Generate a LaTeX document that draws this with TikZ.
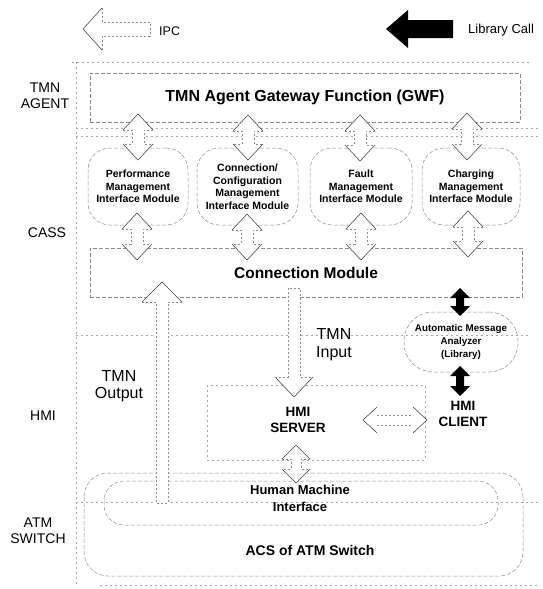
\documentclass[tikz,border=0pt]{standalone}
\usepackage{fontspec}
\setmainfont{Liberation Sans}
\usetikzlibrary{calc}

% vertical open double arrow: x, top tip, bottom tip, head length, head half width, shaft half width
\newcommand\vdblarrow[6]{%
  \fill[white] (#1,#2) -- ({#1+#5},{#2+#4}) -- ({#1+#6},{#2+#4}) -- ({#1+#6},{#3-#4}) -- ({#1+#5},{#3-#4}) -- (#1,#3)
    -- ({#1-#5},{#3-#4}) -- ({#1-#6},{#3-#4}) -- ({#1-#6},{#2+#4}) -- ({#1-#5},{#2+#4}) -- cycle;
  \draw[headline] ({#1-#5},{#2+#4}) -- (#1,#2) -- ({#1+#5},{#2+#4});
  \draw[headline] ({#1-#5},{#3-#4}) -- (#1,#3) -- ({#1+#5},{#3-#4});
  \draw[shaftline] ({#1-#5},{#2+#4}) -- ({#1-#6},{#2+#4}) -- ({#1-#6},{#3-#4}) -- ({#1-#5},{#3-#4});
  \draw[shaftline] ({#1+#5},{#2+#4}) -- ({#1+#6},{#2+#4}) -- ({#1+#6},{#3-#4}) -- ({#1+#5},{#3-#4});
}
% horizontal open double arrow: y, left tip, right tip, head length, head half height, shaft half height
\newcommand\hdblarrow[6]{%
  \fill[white] (#2,#1) -- ({#2+#4},{#1-#5}) -- ({#2+#4},{#1-#6}) -- ({#3-#4},{#1-#6}) -- ({#3-#4},{#1-#5}) -- (#3,#1)
    -- ({#3-#4},{#1+#5}) -- ({#3-#4},{#1+#6}) -- ({#2+#4},{#1+#6}) -- ({#2+#4},{#1+#5}) -- cycle;
  \draw[headline] ({#2+#4},{#1-#5}) -- (#2,#1) -- ({#2+#4},{#1+#5});
  \draw[headline] ({#3-#4},{#1-#5}) -- (#3,#1) -- ({#3-#4},{#1+#5});
  \draw[shaftline] ({#2+#4},{#1-#6}) -- ({#3-#4},{#1-#6});
  \draw[shaftline] ({#2+#4},{#1+#6}) -- ({#3-#4},{#1+#6});
}
% solid black double arrow (library call): x, top tip, bottom tip
\newcommand\blkdblarrow[3]{%
  \fill[black] (#1,#2) -- ({#1+10},{#2+10}) -- ({#1+4},{#2+10}) -- ({#1+4},{#3-10}) -- ({#1+10},{#3-10}) -- (#1,#3)
    -- ({#1-10},{#3-10}) -- ({#1-4},{#3-10}) -- ({#1-4},{#2+10}) -- ({#1-10},{#2+10}) -- cycle;
}

\begin{document}
\begin{tikzpicture}[x=1pt,y=-1pt,
  sep/.style={draw=black!35, line width=0.45pt, dash pattern=on 2pt off 3pt},
  boxline/.style={draw=black!45, line width=0.5pt, dash pattern=on 4pt off 2pt},
  headline/.style={draw=black!75, line width=0.55pt},
  shaftline/.style={draw=black!45, line width=0.45pt, dash pattern=on 2pt off 2pt},
  modbox/.style={boxline, rounded corners=22pt, minimum width=100pt, minimum height=77pt, inner sep=0pt,
    font=\fontsize{10.5}{12.5}\selectfont\bfseries, align=center},
  bigbold/.style={font=\fontsize{15.5}{18}\selectfont\bfseries, inner sep=0pt},
  midbold/.style={font=\fontsize{13.5}{16}\selectfont\bfseries, align=center, inner sep=0pt},
  layer/.style={font=\fontsize{14}{16}\selectfont, align=center, inner sep=0pt},
  flow/.style={font=\fontsize{16}{17.5}\selectfont, align=center, inner sep=0pt},
  legend/.style={font=\fontsize{12.5}{14}\selectfont, inner sep=0pt, anchor=west}]
\useasboundingbox (0,0) rectangle (542,589);

% ---------- legend ----------
\draw[headline] (102,8) -- (83,29) -- (102,50);
\draw[shaftline] (102,8) -- (102,22) -- (150,22) -- (150,36) -- (102,36) -- (102,50);
\node[legend] (ipc) at (159,31) {IPC};
\fill[black] (386,29) -- (408,10) -- (408,20) -- (453,20) -- (453,38) -- (408,38) -- (408,48) -- cycle;
\node[legend, font=\fontsize{13}{15}\selectfont] (libcall) at (468,30) {Library Call};

% ---------- layer separators ----------
\draw[sep] (72,62) -- (530,62);
\draw[sep] (76,128) -- (540,128);
\draw[sep] (76,136) -- (540,136);
\draw[sep] (76,335) -- (530,335);
\draw[sep] (76,502) -- (540,502);
\draw[sep] (100,585) -- (540,585);
\draw[sep] (76,62) -- (76,585);

% ---------- layer names ----------
\node[layer] (lagent) at (45,96) {TMN\\AGENT};
\node[layer] (lcass) at (47,233) {CASS};
\node[layer] (lhmi) at (43,416) {HMI};
\node[layer] (latm) at (38,531) {ATM\\SWITCH};

% ---------- TMN agent ----------
\node[boxline, minimum width=430pt, minimum height=49pt, inner sep=0pt, bigbold, font=\fontsize{16}{18}\selectfont\bfseries]
  (gwf) at (305,97.5) {TMN Agent Gateway Function (GWF)};

% ---------- CASS ----------
\node[modbox] (pm) at (138,186.5) {Performance\\Management\\Interface Module};
\node[modbox, minimum width=101pt] (ccm) at (247.5,186.5) {Connection/\\Configuration\\Management\\Interface Module};
\node[modbox, minimum width=102pt] (fm) at (361,186.5) {Fault\\Management\\Interface Module};
\node[modbox, minimum width=98pt] (chm) at (471,186.5) {Charging\\Management\\Interface Module};

\node[boxline, minimum width=432pt, minimum height=49pt, inner sep=0pt, bigbold] (cm) at (306,272.5) {Connection Module};

% automatic message analyzer (library)
\node[boxline, rounded corners=29pt, minimum width=114pt, minimum height=60pt, inner sep=0pt,
  font=\fontsize{9.8}{13}\selectfont\bfseries, align=center] (ama) at (461,342) {Automatic Message\\Analyzer\\(Library)};

% ---------- HMI ----------
\draw[sep] (207,385) rectangle (425,460);
\node[midbold] (server) at (298,420) {HMI\\SERVER};
\node[midbold] (client) at (463,414) {HMI\\CLIENT};

% ---------- ATM switch ----------
\draw[boxline, rounded corners=24pt] (84,473) rectangle (523,576);
\draw[boxline, rounded corners=20pt] (104,481) rectangle (498,525);
\node[font=\fontsize{13}{16.5}\selectfont\bfseries, align=center, inner sep=0pt] (hmi) at (300,498.5) {Human Machine\\Interface};
\node[font=\fontsize{14}{16}\selectfont\bfseries, inner sep=0pt] (acs) at (310,550) {ACS of ATM Switch};

% ---------- IPC between GWF and interface modules ----------
\vdblarrow{138}{114}{160}{16}{15}{6}
\vdblarrow{248}{115}{160}{16}{15}{6}
\vdblarrow{360}{115}{161}{16}{15}{6}
\vdblarrow{467}{113}{160}{16}{15}{6}

% ---------- IPC between interface modules and connection module ----------
\vdblarrow{137}{213}{260}{16}{15}{6}
\vdblarrow{247}{214}{260}{16}{15}{6}
\vdblarrow{361}{213}{260}{16}{15}{6}
\vdblarrow{468}{211}{257}{16}{15}{6}

% ---------- TMN output (HMI -> connection module) ----------
\fill[white] (162,282) -- (182,302) -- (168,302) -- (168,503) -- (156,503) -- (156,302) -- (142,302) -- cycle;
\draw[headline] (142,302) -- (162,282) -- (182,302);
\draw[shaftline] (142,302) -- (156,302) -- (156,503) -- (168,503) -- (168,302) -- (182,302);
\node[flow] (tout) at (119,386) {TMN\\Output};

% ---------- TMN input (connection module -> HMI server) ----------
\fill[white] (288,288) -- (300,288) -- (300,377) -- (313,377) -- (294,397) -- (275,377) -- (288,377) -- cycle;
\draw[headline] (275,377) -- (294,397) -- (313,377);
\draw[shaftline] (275,377) -- (288,377) -- (288,288) -- (300,288) -- (300,377) -- (313,377);
\node[flow] (tin) at (334,344.5) {TMN\\Input};

% ---------- library calls of the message analyzer ----------
\blkdblarrow{460}{288}{316}
\blkdblarrow{460}{366}{396}

% ---------- HMI server <-> client, HMI server <-> human machine interface ----------
\hdblarrow{420}{363}{427}{14}{13}{5}
\vdblarrow{296}{445}{483}{14}{14}{5}
\end{tikzpicture}
\end{document}
